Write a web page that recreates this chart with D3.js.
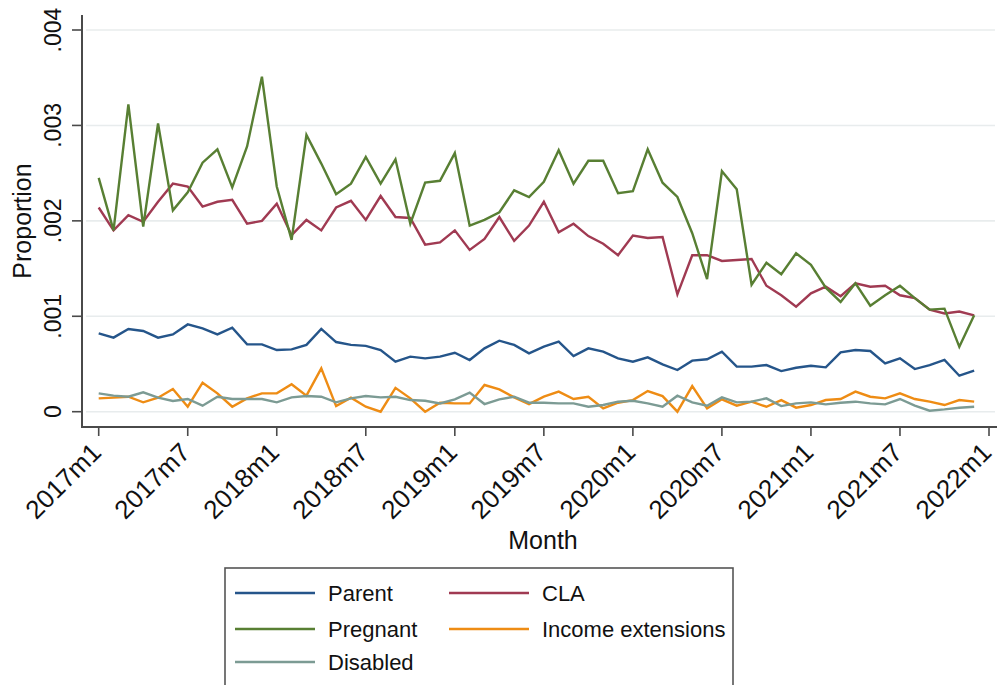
<!DOCTYPE html>
<html>
<head>
<meta charset="utf-8">
<script src="https://cdn.jsdelivr.net/npm/d3@7"></script>
<style>
  html, body { margin: 0; padding: 0; background: #ffffff; }
  svg { display: block; font-family: "Liberation Sans", Arial, sans-serif; }
</style>
</head>
<body>
<svg id="chart" width="998" height="685"></svg>
<script>
// ---- Data (values in thousandths of a proportion, i.e. 2.45 = .00245) ----
const months = [
  "2017m1","2017m2","2017m3","2017m4","2017m5","2017m6","2017m7","2017m8","2017m9","2017m10","2017m11","2017m12",
  "2018m1","2018m2","2018m3","2018m4","2018m5","2018m6","2018m7","2018m8","2018m9","2018m10","2018m11","2018m12",
  "2019m1","2019m2","2019m3","2019m4","2019m5","2019m6","2019m7","2019m8","2019m9","2019m10","2019m11","2019m12",
  "2020m1","2020m2","2020m3","2020m4","2020m5","2020m6","2020m7","2020m8","2020m9","2020m10","2020m11","2020m12",
  "2021m1","2021m2","2021m3","2021m4","2021m5","2021m6","2021m7","2021m8","2021m9","2021m10","2021m11","2021m12"
];

const parent = [0.82,0.776,0.867,0.846,0.776,0.81,0.915,0.874,0.81,0.88,0.706,0.706,
  0.646,0.653,0.70,0.867,0.73,0.70,0.69,0.646,0.524,0.577,0.559,0.577,
  0.618,0.542,0.664,0.744,0.70,0.611,0.681,0.734,0.583,0.664,0.629,0.559,
  0.524,0.57,0.496,0.437,0.535,0.549,0.629,0.472,0.472,0.489,0.426,0.461,
  0.482,0.465,0.622,0.646,0.636,0.507,0.559,0.447,0.489,0.542,0.377,0.43];

const cla = [2.14,1.90,2.06,1.99,2.20,2.39,2.36,2.15,2.20,2.22,1.97,2.00,
  2.18,1.85,2.01,1.90,2.14,2.21,2.01,2.26,2.04,2.03,1.75,1.775,
  1.90,1.695,1.81,2.04,1.79,1.95,2.20,1.88,1.97,1.84,1.76,1.64,
  1.845,1.82,1.83,1.23,1.64,1.64,1.58,1.59,1.60,1.32,1.22,1.10,
  1.24,1.31,1.21,1.345,1.31,1.32,1.22,1.19,1.07,1.03,1.05,1.01];

const pregnant = [2.45,1.90,3.22,1.94,3.02,2.11,2.30,2.61,2.75,2.35,2.78,3.51,
  2.36,1.80,2.90,2.60,2.28,2.39,2.67,2.39,2.645,1.97,2.40,2.42,
  2.71,1.95,2.01,2.09,2.32,2.25,2.41,2.74,2.39,2.63,2.63,2.29,
  2.31,2.75,2.40,2.25,1.87,1.39,2.52,2.33,1.33,1.56,1.44,1.66,
  1.54,1.30,1.15,1.345,1.11,1.22,1.32,1.19,1.07,1.08,0.68,1.01];

const incomeExt = [0.14,0.147,0.157,0.098,0.147,0.238,0.052,0.304,0.192,0.052,0.14,0.192,
  0.192,0.287,0.168,0.454,0.059,0.147,0.052,0.0,0.25,0.14,0.0,0.094,
  0.087,0.087,0.28,0.234,0.15,0.08,0.157,0.21,0.133,0.157,0.035,0.094,
  0.122,0.217,0.164,0.0,0.269,0.035,0.13,0.063,0.105,0.052,0.122,0.042,
  0.07,0.122,0.133,0.21,0.157,0.14,0.192,0.133,0.105,0.07,0.122,0.105];

const disabled = [0.192,0.168,0.157,0.203,0.147,0.112,0.133,0.063,0.157,0.133,0.133,0.133,
  0.098,0.15,0.164,0.157,0.098,0.14,0.164,0.15,0.157,0.122,0.115,0.087,
  0.13,0.2,0.08,0.13,0.157,0.094,0.094,0.087,0.087,0.052,0.07,0.105,
  0.115,0.087,0.052,0.168,0.098,0.063,0.15,0.098,0.105,0.14,0.059,0.087,
  0.098,0.077,0.094,0.105,0.087,0.077,0.133,0.063,0.01,0.024,0.042,0.052];

const xTickLabels = ["2017m1","2017m7","2018m1","2018m7","2019m1","2019m7","2020m1","2020m7","2021m1","2021m7","2022m1"];
const xTickIndex  = [0, 6, 12, 18, 24, 30, 36, 42, 48, 54, 60];
const yTickValues = [0, 0.001, 0.002, 0.003, 0.004];
const yTickLabels = ["0", ".001", ".002", ".003", ".004"];

const seriesNames  = ["Parent", "CLA", "Pregnant", "Income extensions", "Disabled"];
const seriesColors = ["#25558a", "#a03a52", "#587f33", "#ee8c14", "#7c9b94"];
const seriesData   = [parent, cla, pregnant, incomeExt, disabled];

// ---- Layout ----
const svg = d3.select("#chart");
const x = d3.scaleLinear().domain([0, 60]).range([98.7, 989]);
const y = d3.scaleLinear().domain([0, 0.004]).range([411.7, 30]);
const axisLeftX = 82, axisBottomY = 427, axisTopY = 15, axisRightX = 997;

// gridlines
svg.append("g").selectAll("line").data(yTickValues).join("line")
  .attr("x1", axisLeftX + 4).attr("x2", axisRightX - 2)
  .attr("y1", d => y(d)).attr("y2", d => y(d))
  .attr("stroke", "#e8eced").attr("stroke-width", 1.6);

// series lines
const line = d3.line().x((d, i) => x(i)).y(d => y(d / 1000));
svg.append("g").selectAll("path").data(seriesData).join("path")
  .attr("d", d => line(d))
  .attr("fill", "none")
  .attr("stroke", (d, i) => seriesColors[i])
  .attr("stroke-width", 2.4)
  .attr("stroke-linejoin", "miter");

// y axis
const yAxis = svg.append("g");
yAxis.append("line").attr("x1", axisLeftX).attr("x2", axisLeftX)
  .attr("y1", axisTopY).attr("y2", axisBottomY)
  .attr("stroke", "#4a4a4a").attr("stroke-width", 2);
yAxis.selectAll("line.tick").data(yTickValues).join("line").attr("class", "tick")
  .attr("x1", axisLeftX - 10).attr("x2", axisLeftX)
  .attr("y1", d => y(d)).attr("y2", d => y(d))
  .attr("stroke", "#4a4a4a").attr("stroke-width", 1.6);
yAxis.selectAll("text").data(yTickValues).join("text")
  .attr("transform", d => `translate(61,${y(d)}) rotate(-90)`)
  .attr("text-anchor", "middle")
  .attr("font-size", 23)
  .attr("fill", "#111")
  .text((d, i) => yTickLabels[i]);

// x axis
const xAxis = svg.append("g");
xAxis.append("line").attr("x1", axisLeftX - 1).attr("x2", axisRightX)
  .attr("y1", axisBottomY).attr("y2", axisBottomY)
  .attr("stroke", "#4a4a4a").attr("stroke-width", 2);
xAxis.selectAll("line.tick").data(xTickIndex).join("line").attr("class", "tick")
  .attr("x1", d => x(d)).attr("x2", d => x(d))
  .attr("y1", axisBottomY).attr("y2", axisBottomY + 9)
  .attr("stroke", "#4a4a4a").attr("stroke-width", 1.6);
xAxis.selectAll("text").data(xTickIndex).join("text")
  .attr("transform", d => `translate(${x(d) + 4},${454}) rotate(-45)`)
  .attr("text-anchor", "end")
  .attr("font-size", 26)
  .attr("fill", "#111")
  .text((d, i) => xTickLabels[i]);

// axis titles
svg.append("text")
  .attr("transform", `translate(31,${(axisTopY + axisBottomY) / 2}) rotate(-90)`)
  .attr("text-anchor", "middle").attr("font-size", 25).attr("fill", "#111")
  .text("Proportion");
svg.append("text")
  .attr("x", 543).attr("y", 549)
  .attr("text-anchor", "middle").attr("font-size", 25).attr("fill", "#111")
  .text("Month");

// legend
const legend = svg.append("g");
legend.append("rect")
  .attr("x", 225).attr("y", 568).attr("width", 508).attr("height", 130)
  .attr("fill", "#fff").attr("stroke", "#555").attr("stroke-width", 1.6);
const legendPos = [
  {lx: 235, tx: 328, cy: 593},
  {lx: 449, tx: 542, cy: 593},
  {lx: 235, tx: 328, cy: 629},
  {lx: 449, tx: 542, cy: 629},
  {lx: 235, tx: 328, cy: 662}
];
const items = legend.selectAll("g.item").data(seriesNames).join("g").attr("class", "item");
items.append("line")
  .attr("x1", (d, i) => legendPos[i].lx).attr("x2", (d, i) => legendPos[i].lx + 80)
  .attr("y1", (d, i) => legendPos[i].cy).attr("y2", (d, i) => legendPos[i].cy)
  .attr("stroke", (d, i) => seriesColors[i]).attr("stroke-width", 2.3);
items.append("text")
  .attr("x", (d, i) => legendPos[i].tx).attr("y", (d, i) => legendPos[i].cy + 8)
  .attr("font-size", 22).attr("fill", "#111")
  .text(d => d);
</script>
</body>
</html>
